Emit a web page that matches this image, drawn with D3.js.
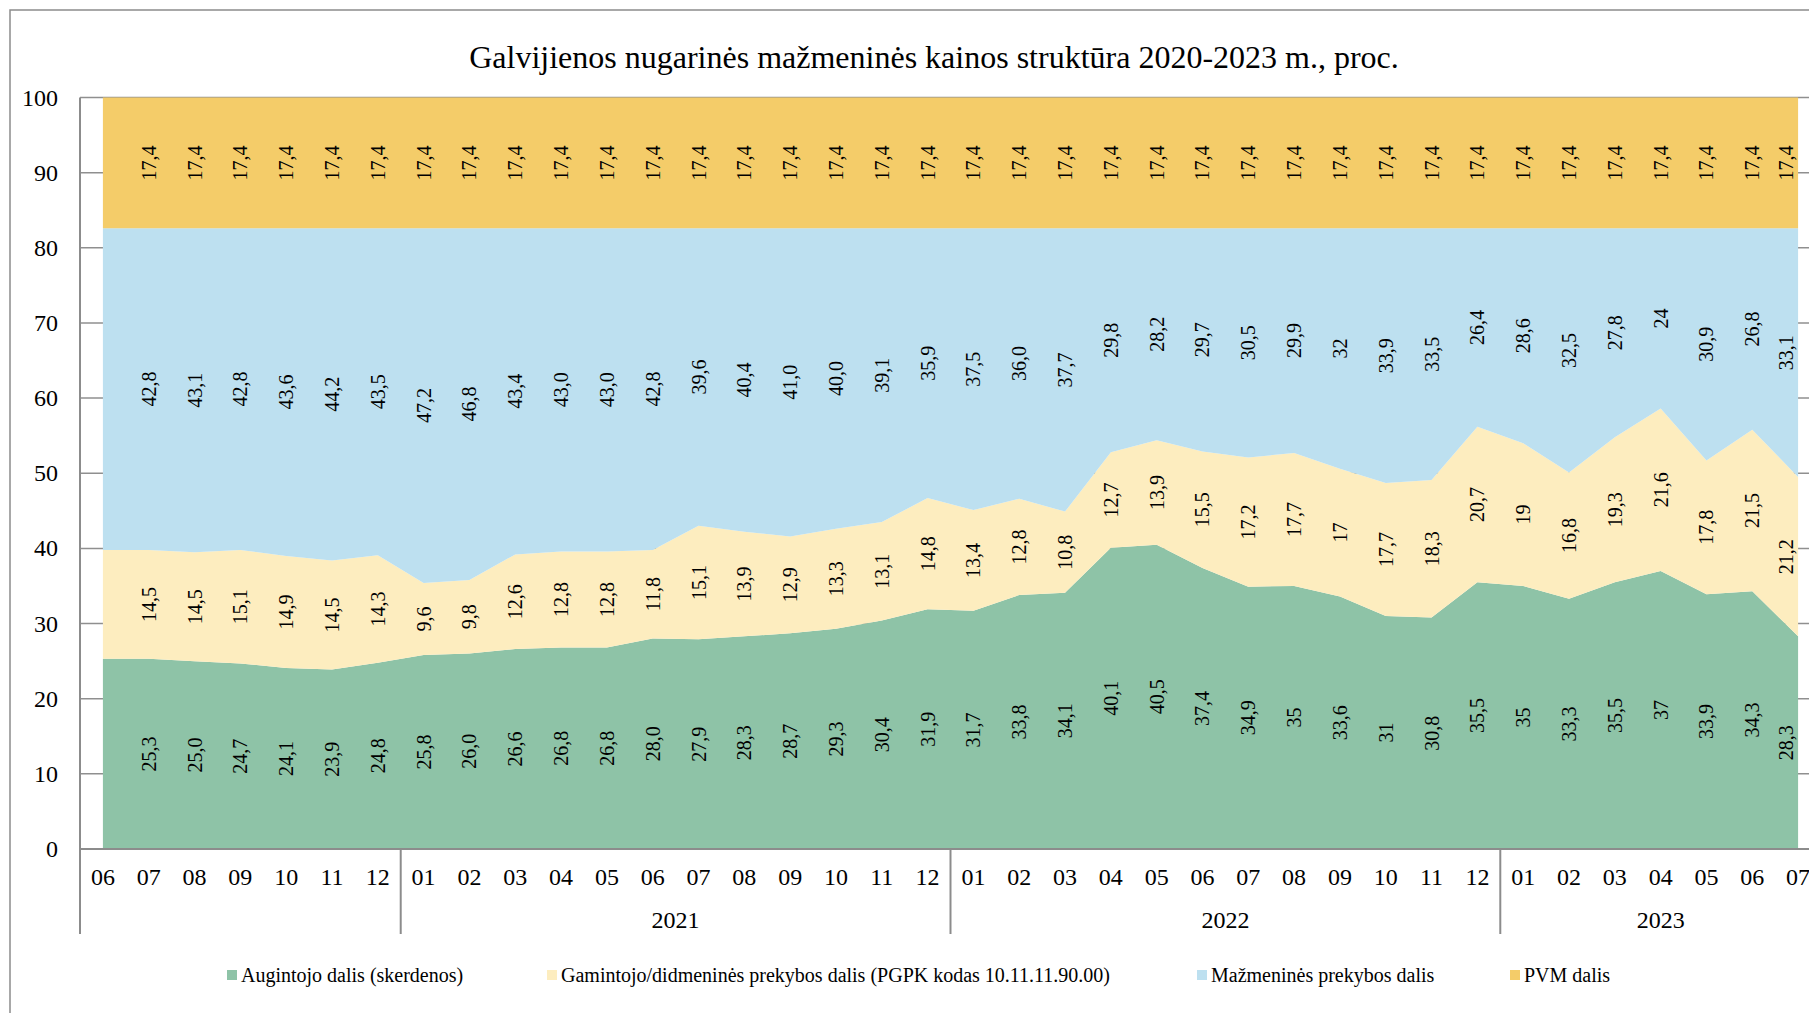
<!DOCTYPE html>
<html>
<head>
<meta charset="utf-8">
<script src="https://cdn.jsdelivr.net/npm/d3@7"></script>
<style>
  html, body { margin: 0; padding: 0; background: #ffffff; }
  svg { display: block; }
  text { font-family: "Liberation Serif", "DejaVu Serif", serif; fill: #000; }
</style>
</head>
<body>
<svg id="chart" width="1809" height="1013"></svg>
<script>
// ---------------- DATA ----------------
const title = "Galvijienos nugarinės mažmeninės kainos struktūra 2020-2023 m., proc.";

const yearGroupLabels = ["", "2021", "2022", "2023"]; // 2020 group is unlabelled in the original
const monthsByYear = [
  ["06", "07", "08", "09", "10", "11", "12"],
  ["01", "02", "03", "04", "05", "06", "07", "08", "09", "10", "11", "12"],
  ["01", "02", "03", "04", "05", "06", "07", "08", "09", "10", "11", "12"],
  ["01", "02", "03", "04", "05", "06", "07"]
];

const seriesNames = [
  "Augintojo dalis (skerdenos)",
  "Gamintojo/didmeninės prekybos dalis (PGPK kodas 10.11.11.90.00)",
  "Mažmeninės prekybos dalis",
  "PVM dalis"
];

const augintojo = [
  25.3, 25.3, 25.0, 24.7, 24.1, 23.9, 24.8,
  25.8, 26.0, 26.6, 26.8, 26.8, 28.0, 27.9, 28.3, 28.7, 29.3, 30.4, 31.9,
  31.7, 33.8, 34.1, 40.1, 40.5, 37.4, 34.9, 35, 33.6, 31, 30.8, 35.5,
  35, 33.3, 35.5, 37, 33.9, 34.3, 28.3
];
const gamintojo = [
  14.5, 14.5, 14.5, 15.1, 14.9, 14.5, 14.3,
  9.6, 9.8, 12.6, 12.8, 12.8, 11.8, 15.1, 13.9, 12.9, 13.3, 13.1, 14.8,
  13.4, 12.8, 10.8, 12.7, 13.9, 15.5, 17.2, 17.7, 17, 17.7, 18.3, 20.7,
  19, 16.8, 19.3, 21.6, 17.8, 21.5, 21.2
];
const mazmenines = [
  42.8, 42.8, 43.1, 42.8, 43.6, 44.2, 43.5,
  47.2, 46.8, 43.4, 43.0, 43.0, 42.8, 39.6, 40.4, 41.0, 40.0, 39.1, 35.9,
  37.5, 36.0, 37.7, 29.8, 28.2, 29.7, 30.5, 29.9, 32, 33.9, 33.5, 26.4,
  28.6, 32.5, 27.8, 24, 30.9, 26.8, 33.1
];
const pvm = [
  17.4, 17.4, 17.4, 17.4, 17.4, 17.4, 17.4,
  17.4, 17.4, 17.4, 17.4, 17.4, 17.4, 17.4, 17.4, 17.4, 17.4, 17.4, 17.4,
  17.4, 17.4, 17.4, 17.4, 17.4, 17.4, 17.4, 17.4, 17.4, 17.4, 17.4, 17.4,
  17.4, 17.4, 17.4, 17.4, 17.4, 17.4, 17.4
];

const yTicks = [0, 10, 20, 30, 40, 50, 60, 70, 80, 90, 100];
const labelsFromIndex = 1;      // first month (2020-06) carries no data labels
const fixedDecimalsBefore = 22; // up to 2022-03 labels are shown with one decimal

// ---------------- BUILD ----------------
const colors = ["#8ec3a7", "#fdedbf", "#bde0f0", "#f4cc69"];
const keys = ["a", "g", "m", "p"];
const seriesArrays = [augintojo, gamintojo, mazmenines, pvm];

const categories = [];
monthsByYear.forEach((ms, gi) => ms.forEach(m => categories.push({ month: m, group: gi })));
const rows = categories.map((c, i) => {
  const r = { i };
  keys.forEach((k, j) => r[k] = seriesArrays[j][i]);
  return r;
});

const svg = d3.select("#chart");

const plotLeft = 80, plotRight = 1821, plotTop = 97.5, plotBottom = 849;
const x = d3.scalePoint().domain(d3.range(categories.length)).range([plotLeft, plotRight]).padding(0.5);
const y = d3.scaleLinear().domain([0, 100]).range([plotBottom, plotTop]);
const step = x.step();

// chart frame
svg.append("rect").attr("x", 10).attr("y", 10).attr("width", 1840).attr("height", 1040)
  .attr("fill", "none").attr("stroke", "#8c8c8c").attr("stroke-width", 1.5);

// title
svg.append("text").attr("x", 934).attr("y", 68).attr("text-anchor", "middle")
  .style("font-size", "32px").text(title);

// gridlines
svg.append("g").selectAll("line").data(yTicks.filter(t => t > 0)).join("line")
  .attr("x1", plotLeft).attr("x2", plotRight)
  .attr("y1", d => y(d)).attr("y2", d => y(d))
  .attr("stroke", "#8f8f8f").attr("stroke-width", 1.5);

// stacked areas
const stack = d3.stack().keys(keys);
const stacked = stack(rows);
const area = d3.area()
  .x(d => x(d.data.i))
  .y0(d => y(d[0]))
  .y1(d => y(d[1]));
svg.append("g").selectAll("path").data(stacked).join("path")
  .attr("d", area).attr("fill", (d, i) => colors[i]);

// axes lines
svg.append("line").attr("x1", plotLeft).attr("x2", plotLeft).attr("y1", plotTop).attr("y2", 934)
  .attr("stroke", "#8c8c8c").attr("stroke-width", 2);
svg.append("line").attr("x1", plotLeft).attr("x2", plotRight).attr("y1", plotBottom).attr("y2", plotBottom)
  .attr("stroke", "#8c8c8c").attr("stroke-width", 2);

// y axis labels
svg.append("g").selectAll("text").data(yTicks).join("text")
  .attr("x", 58).attr("y", d => y(d)).attr("text-anchor", "end").attr("dominant-baseline", "central")
  .style("font-size", "24px").text(d => d);

// x month labels
svg.append("g").selectAll("text").data(categories).join("text")
  .attr("x", (d, i) => x(i)).attr("y", 877).attr("text-anchor", "middle").attr("dominant-baseline", "central")
  .style("font-size", "24px").text(d => d.month);

// year groups
let start = 0;
const groups = monthsByYear.map((ms, gi) => {
  const g = { label: yearGroupLabels[gi], from: start, to: start + ms.length - 1 };
  start += ms.length;
  return g;
});
svg.append("g").selectAll("line").data(groups.slice(1)).join("line")
  .attr("x1", d => x(d.from) - step / 2).attr("x2", d => x(d.from) - step / 2)
  .attr("y1", plotBottom).attr("y2", 934)
  .attr("stroke", "#8c8c8c").attr("stroke-width", 2);
svg.append("g").selectAll("text").data(groups).join("text")
  .attr("x", d => (x(d.from) + x(d.to)) / 2).attr("y", 920)
  .attr("text-anchor", "middle").attr("dominant-baseline", "central")
  .style("font-size", "24px").text(d => d.label);

// data labels
const fmt = (v, i) => (i < fixedDecimalsBefore ? v.toFixed(1) : String(v)).replace(".", ",");
const labelLayer = svg.append("g");
stacked.forEach((s, j) => {
  s.forEach((d, i) => {
    if (i < labelsFromIndex) return;
    const cx = Math.min(x(i), 1786);
    const cy = y((d[0] + d[1]) / 2);
    labelLayer.append("text")
      .attr("transform", `translate(${cx},${cy}) rotate(-90)`)
      .attr("text-anchor", "middle").attr("dominant-baseline", "central")
      .style("font-size", "20px")
      .text(fmt(seriesArrays[j][i], i));
  });
});

// legend
const legendX = [227, 547, 1197, 1510];
const legend = svg.append("g").selectAll("g").data(seriesNames).join("g")
  .attr("transform", (d, i) => `translate(${legendX[i]},975)`);
legend.append("rect").attr("x", 0).attr("y", -5).attr("width", 10).attr("height", 10)
  .attr("fill", (d, i) => colors[i]);
legend.append("text").attr("x", 14).attr("y", 0).attr("dominant-baseline", "central")
  .style("font-size", "20px").text(d => d);
</script>
</body>
</html>
